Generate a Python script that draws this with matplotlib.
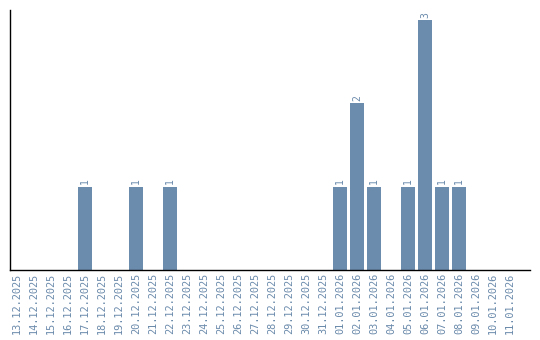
import matplotlib
matplotlib.use("Agg")
import matplotlib.pyplot as plt

dates = ["13.12.2025", "14.12.2025", "15.12.2025", "16.12.2025", "17.12.2025",
         "18.12.2025", "19.12.2025", "20.12.2025", "21.12.2025", "22.12.2025",
         "23.12.2025", "24.12.2025", "25.12.2025", "26.12.2025", "27.12.2025",
         "28.12.2025", "29.12.2025", "30.12.2025", "31.12.2025", "01.01.2026",
         "02.01.2026", "03.01.2026", "04.01.2026", "05.01.2026", "06.01.2026",
         "07.01.2026", "08.01.2026", "09.01.2026", "10.01.2026", "11.01.2026"]
counts = [0, 0, 0, 0, 1, 0, 0, 1, 0, 1,
          0, 0, 0, 0, 0, 0, 0, 0, 0, 1,
          2, 1, 0, 1, 3, 1, 1, 0, 0, 0]

bar_color = "#6b8cad"
text_color = "#6a8aab"

fig = plt.figure(figsize=(5.4, 3.4), dpi=100)
ax = fig.add_axes([10/540, 70/340, 520/540, 260/340])
x = list(range(len(dates)))
bars = ax.bar(x, counts, width=0.82, color=bar_color)
for xi, c in zip(x, counts):
    if c > 0:
        ax.text(xi, c + 0.03, str(c), rotation=90, ha="center", va="bottom",
                color=text_color, fontsize=7, family="DejaVu Sans Mono")

ax.set_xlim(-0.41, 30.18)
ax.set_ylim(0, 3.12)
ax.set_xticks(x)
ax.set_xticklabels(dates, rotation=90, color=text_color, fontsize=7.4,
                   family="DejaVu Sans Mono")
ax.tick_params(axis="x", length=0, pad=2)
ax.set_yticks([])
for s in ["top", "right"]:
    ax.spines[s].set_visible(False)
for s in ["left", "bottom"]:
    ax.spines[s].set_linewidth(1.0)
    ax.spines[s].set_color("black")

fig.savefig("out.png", dpi=100)
